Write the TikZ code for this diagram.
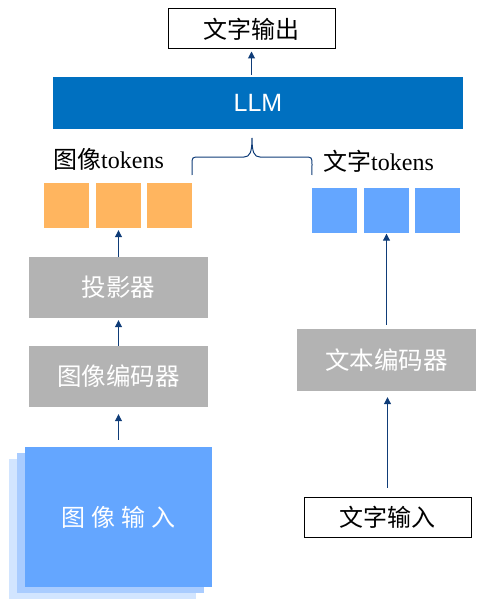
\documentclass[tikz,border=0pt]{standalone}
\usepackage{fontspec}
\setmainfont{Liberation Serif}
\newfontfamily\cjk{Noto Sans CJK SC}
\newfontfamily\lsans{Liberation Sans}
\usetikzlibrary{arrows.meta}
\definecolor{llmblue}{HTML}{0070C0}
\definecolor{tokorange}{HTML}{FFB55F}
\definecolor{tokblue}{HTML}{64A6FF}
\definecolor{boxgray}{HTML}{B3B3B3}
\definecolor{imgmid}{HTML}{A9CCFF}
\definecolor{imgback}{HTML}{D2E5FF}
\definecolor{arrowc}{HTML}{0F3C78}
\begin{document}
\begin{tikzpicture}[x=1pt,y=-1pt,
  outbox/.style={draw=black, line width=1pt, minimum width=167pt, minimum height=40pt, inner sep=0pt, font=\cjk\fontsize{24}{26}\selectfont},
  graybox/.style={fill=boxgray, minimum width=179pt, minimum height=61pt, inner sep=0pt, text=white, font=\cjk\fontsize{24.5}{26}\selectfont},
  tok/.style={minimum width=45pt, minimum height=45pt, inner sep=0pt},
  toklabel/.style={anchor=west, inner sep=0pt, font=\fontsize{24}{26}\selectfont},
  arr/.style={draw=arrowc, line width=1pt, -{Triangle[width=7pt,length=7pt]}},
  bracepath/.style={draw=arrowc, line width=1pt}
]
\useasboundingbox (0,0) rectangle (484,607);

% output and LLM
\node[outbox] (out) at (251.5,29) {文字输出};
\node[fill=llmblue, minimum width=410pt, minimum height=52pt, inner sep=0pt, text=white, font=\lsans\fontsize{25}{27}\selectfont] (llm) at (258,103) {LLM};

% token labels
\node[toklabel] (imgtoklbl) at (53,159) {{\cjk 图像}tokens};
\node[toklabel] (txttoklbl) at (323,161) {{\cjk 文字}tokens};

% tokens
\node[tok, fill=tokorange] (o1) at (66.5,205.5) {};
\node[tok, fill=tokorange] (o2) at (118.5,205.5) {};
\node[tok, fill=tokorange] (o3) at (169.5,205.5) {};
\node[tok, fill=tokblue] (b1) at (334.5,210) {};
\node[tok, fill=tokblue] (b2) at (386.5,210) {};
\node[tok, fill=tokblue] (b3) at (437.5,210) {};

% left column
\node[graybox] (proj) at (118.5,287.5) {投影器};
\node[graybox] (ienc) at (118.5,376.5) {图像编码器};
\fill[imgback] (9,459) rectangle (196,599);
\fill[imgmid] (17,453) rectangle (204,593);
\node[fill=tokblue, minimum width=187pt, minimum height=140pt, inner sep=0pt, text=white, font=\cjk\fontsize{24}{26}\selectfont] (img) at (118.5,517) {图\hspace{6pt}像\hspace{6pt}输\hspace{6pt}入};

% right column
\node[graybox, minimum height=62pt] (tenc) at (386.5,360) {文本编码器};
\node[outbox] (tin) at (387.5,517) {文字输入};

% arrows
\draw[arr, shorten <=2pt, shorten >=2pt] (llm.north -| out.south) -- (out.south);
\draw[arr, shorten >=2pt] (proj.north) -- (o2.south);
\draw[arr, shorten >=2pt] (ienc.north) -- (proj.south);
\draw[arr, shorten <=7pt, shorten >=7pt] (img.north) -- (ienc.south);
\draw[arr, shorten <=4pt, shorten >=1pt] (tenc.north -| b2.south) -- (b2.south);
\draw[arr, shorten <=9pt, shorten >=6pt] (tin.north) -- (tin.north |- tenc.south);

% brace
\coordinate (bl) at (o3.east |- 0,175);
\coordinate (br) at (b1.west |- 0,175);
\coordinate (bt) at (252,138);
\draw[bracepath] (bl) -- (192,165) .. controls (192,157) .. (200,157) -- (244,157)
  .. controls (250,157) and (252,152) .. (bt)
  .. controls (252,152) and (254,157) .. (260,157) -- (304,157)
  .. controls (312,157) .. (312,165) -- (br);
\end{tikzpicture}
\end{document}
